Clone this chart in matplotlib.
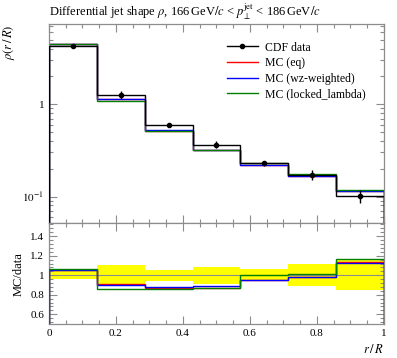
import matplotlib
matplotlib.use('Agg')
import matplotlib.pyplot as plt
import numpy as np
from matplotlib.ticker import MultipleLocator, FixedLocator, FixedFormatter, AutoMinorLocator, NullFormatter

plt.rcParams['font.family'] = ['Liberation Serif', 'DejaVu Serif']
plt.rcParams['mathtext.fontset'] = 'stix'

# bin edges in r/R
edges = np.arange(8) / 7.0
centers = 0.5 * (edges[:-1] + edges[1:])

# CDF data and relative errors
data = [4.25, 1.27, 0.595, 0.365, 0.228, 0.172, 0.101]
data_rel_err = [0.04, 0.105, 0.055, 0.085, 0.06, 0.115, 0.155]

# MC predictions
mc_eq = [4.46, 1.15, 0.518, 0.318, 0.217, 0.168, 0.115]
mc_wz = [4.46, 1.143, 0.524, 0.323, 0.217, 0.168, 0.114]
mc_locked = [4.5, 1.086, 0.509, 0.319, 0.228, 0.175, 0.118]

labels = ['MC (eq)', 'MC (wz-weighted)', 'MC (locked_lambda)']
colors = ['red', 'blue', 'green']

data = np.array(data)
err = data * np.array(data_rel_err)

fig = plt.figure(figsize=(3.97, 3.58), dpi=100)
ax = fig.add_axes([0.1234, 0.3757, 0.8436, 0.5573])
rax = fig.add_axes([0.1234, 0.095, 0.8436, 0.2807])

axis_grey = '#8c8c8c'

# main panel
for vals, lab, col in zip([mc_eq, mc_wz, mc_locked], labels, colors):
    ax.stairs(vals, edges, color=col, lw=1.0, label=lab, zorder=2)
ax.stairs(data, edges, color='black', lw=1.0, zorder=3)
ax.errorbar(centers, data, yerr=err, fmt='o', color='black', ms=3, lw=1.0,
            capsize=0, zorder=4)
ax.plot([], [], 'o-', color='black', ms=3, lw=1.0, label='CDF data')

ax.set_yscale('log')
ax.set_ylim(0.051, 7.4)
ax.yaxis.set_major_locator(FixedLocator([0.1, 1]))
ax.yaxis.set_major_formatter(FixedFormatter(['$10^{-1}$', '1']))
ax.yaxis.set_minor_formatter(NullFormatter())

h, l = ax.get_legend_handles_labels()
order = [3, 0, 1, 2]
ax.legend([h[i] for i in order], [l[i] for i in order], loc='upper left',
          bbox_to_anchor=(0.5, 0.965), frameon=False, fontsize=8.5,
          handlelength=2.6, handletextpad=0.6, labelspacing=0.3)

ax.text(0.0, 1.012, r'Differential jet shape $\rho$, 166$\,$GeV$/c$ < $p_\perp^{\mathrm{jet}}$ < 186$\,$GeV$/c$',
        transform=ax.transAxes, fontsize=9, ha='left', va='bottom')
ax.set_ylabel(r'$\rho(r\,/\,R)$', fontsize=9, loc='top')

# ratio panel
rel = np.array(data_rel_err)
rax.stairs(1 + rel, edges, baseline=1 - rel, fill=True, color='yellow', lw=0, zorder=1)
rax.axhline(1.0, color=axis_grey, lw=0.8, zorder=2)
for vals, col in zip([mc_eq, mc_wz, mc_locked], colors):
    rax.stairs(np.array(vals) / data, edges, color=col, lw=1.0, zorder=3)

rax.set_ylim(0.5, 1.53)
rax.set_yticks([0.6, 0.8, 1.0, 1.2, 1.4])
rax.set_yticklabels(['0.6', '0.8', '1', '1.2', '1.4'])
rax.yaxis.set_minor_locator(AutoMinorLocator(5))
rax.set_ylabel('MC/data', fontsize=9)
rax.set_xlabel(r'$r\,/\,R$', fontsize=9, loc='right')

for a in (ax, rax):
    for s in a.spines.values():
        s.set_color(axis_grey)
        s.set_linewidth(0.9)
    a.tick_params(which='both', direction='in', top=True, right=True,
                  color=axis_grey, labelsize=8, width=0.8)
    a.tick_params(which='major', length=6)
    a.tick_params(which='minor', length=3)
    a.set_xlim(0, 1)
    a.set_xticks([0, 0.2, 0.4, 0.6, 0.8, 1.0])
    a.xaxis.set_minor_locator(MultipleLocator(0.05))

ax.set_xticklabels([])
rax.set_xticklabels(['0', '0.2', '0.4', '0.6', '0.8', '1'])

fig.savefig('out.png', dpi=100)
